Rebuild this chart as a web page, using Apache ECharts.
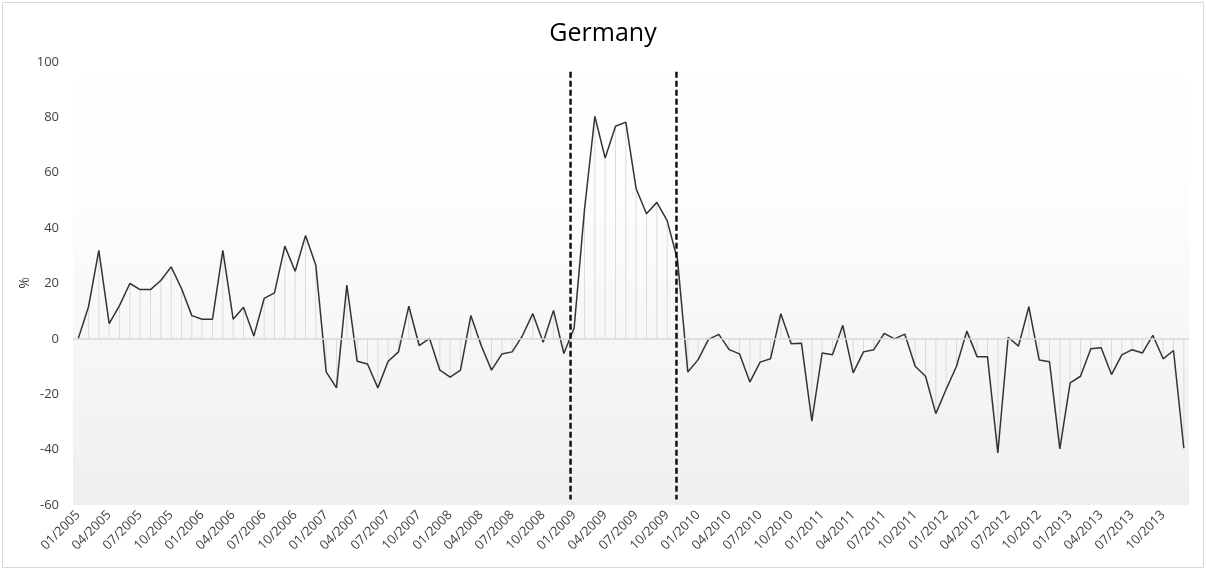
<!DOCTYPE html>
<html>
<head>
<meta charset="utf-8">
<script src="https://cdn.jsdelivr.net/npm/echarts@6/dist/echarts.min.js"></script>
<style>
html,body{margin:0;padding:0;background:#fff;}
#chart{width:1206px;height:570px;}
</style>
</head>
<body>
<div id="chart"></div>
<script>
// Category labels: monthly, 01/2005 .. 12/2013
const years = [2005, 2006, 2007, 2008, 2009, 2010, 2011, 2012, 2013];
const monthNames = ['01','02','03','04','05','06','07','08','09','10','11','12'];
const months = [];
years.forEach(y => monthNames.forEach(m => months.push(m + '/' + y)));

// Series values (%), one row per year
const values2005 = [0, 11.6, 32.0, 5.5, 12.0, 20.0, 17.8, 17.8, 21.1, 26.0, 18.2, 8.4];
const values2006 = [7.1, 7.1, 32.0, 7.1, 11.4, 1.0, 14.6, 16.6, 33.5, 24.4, 37.3, 26.6];
const values2007 = [-11.9, -17.7, 19.4, -8.1, -9.1, -17.7, -8.1, -4.7, 11.8, -2.4, 0.2, -11.3];
const values2008 = [-13.8, -11.3, 8.4, -2.4, -11.3, -5.5, -4.7, 1.2, 9.1, -1.2, 10.3, -5.3];
const values2009 = [4.0, 46.7, 80.4, 65.3, 76.8, 78.3, 54.2, 45.2, 49.3, 42.7, 28.6, -12.0];
const values2010 = [-7.5, -0.2, 1.6, -3.9, -5.4, -15.6, -8.4, -7.2, 9.1, -1.8, -1.6, -29.7];
const values2011 = [-5.1, -5.7, 4.9, -12.3, -4.7, -3.9, 2.0, 0, 1.7, -9.9, -13.5, -27.0];
const values2012 = [-18.2, -9.9, 2.8, -6.5, -6.5, -41.2, 0.6, -2.6, 11.6, -7.6, -8.3, -39.7];
const values2013 = [-15.9, -13.5, -3.6, -3.2, -12.9, -5.8, -3.9, -5.1, 1.3, -7.2, -4.2, -39.5];
const values = [].concat(values2005, values2006, values2007, values2008, values2009,
                         values2010, values2011, values2012, values2013);

// Dashed period markers (positions in category-index units) and their vertical extent
const markerPositions = [47.65, 57.9];
const markerTop = 96.5;
const markerBottom = -58;

// Axis ticks
const yMin = -60, yMax = 100, yStep = 20;
const yName = '%';

const font = 'Open Sans';
const labelColor = '#404040';
const chart = echarts.init(document.getElementById('chart'), null, {renderer: 'canvas'});

const markerSeries = markerPositions.map(p => ({
  type: 'line',
  xAxisIndex: 1,
  data: [[p, markerTop], [p, markerBottom]],
  symbol: 'none',
  silent: true,
  z: 5,
  lineStyle: {color: '#111', width: 2.5, type: [6, 3]}
}));

chart.setOption({
  animation: false,
  backgroundColor: '#ffffff',
  textStyle: {fontFamily: font},
  title: {
    text: 'Germany',
    left: 'center',
    top: 16,
    textStyle: {fontFamily: font, fontSize: 25, fontWeight: 'normal', color: '#000'}
  },
  graphic: [{
    type: 'rect',
    shape: {x: 2.5, y: 2.5, width: 1201, height: 565},
    style: {fill: 'none', stroke: '#d9d9d9', lineWidth: 1},
    silent: true,
    z: -10
  }, {
    type: 'text',
    x: 25,
    y: 283,
    rotation: Math.PI / 2,
    silent: true,
    style: {
      text: yName,
      fill: labelColor,
      font: '14px "Open Sans"',
      align: 'center',
      verticalAlign: 'middle'
    }
  }],
  grid: {
    left: 73, right: 17, top: 62, bottom: 65,
    show: true,
    borderWidth: 0,
    backgroundColor: {
      type: 'linear', x: 0, y: 0, x2: 0, y2: 1,
      colorStops: [
        {offset: 0, color: '#ffffff'},
        {offset: 0.3, color: '#fdfdfd'},
        {offset: 1, color: '#efefef'}
      ]
    }
  },
  xAxis: [{
    type: 'category',
    data: months,
    boundaryGap: true,
    axisLine: {show: false},
    axisTick: {show: false},
    splitLine: {show: false},
    axisLabel: {
      interval: 2,
      rotate: 45,
      margin: 8,
      fontSize: 13,
      fontFamily: font,
      color: labelColor
    }
  }, {
    type: 'value',
    min: -0.5,
    max: months.length - 0.5,
    show: false
  }],
  yAxis: {
    type: 'value',
    min: yMin,
    max: yMax,
    interval: yStep,
    axisLine: {show: false},
    axisTick: {show: false},
    splitLine: {show: false},
    axisLabel: {fontSize: 13, fontFamily: font, color: labelColor, margin: 14}
  },
  series: [{
    type: 'bar',
    data: values,
    barWidth: 1,
    silent: true,
    z: 1,
    itemStyle: {color: '#dcdcdc'},
    markLine: {
      silent: true,
      symbol: ['none', 'none'],
      label: {show: false},
      lineStyle: {color: '#d9d9d9', type: 'solid', width: 1.5},
      data: [{yAxis: 0}]
    }
  }, {
    type: 'line',
    data: values,
    symbol: 'none',
    silent: true,
    z: 3,
    lineStyle: {color: '#333333', width: 1.5}
  }].concat(markerSeries)
});
</script>
</body>
</html>
